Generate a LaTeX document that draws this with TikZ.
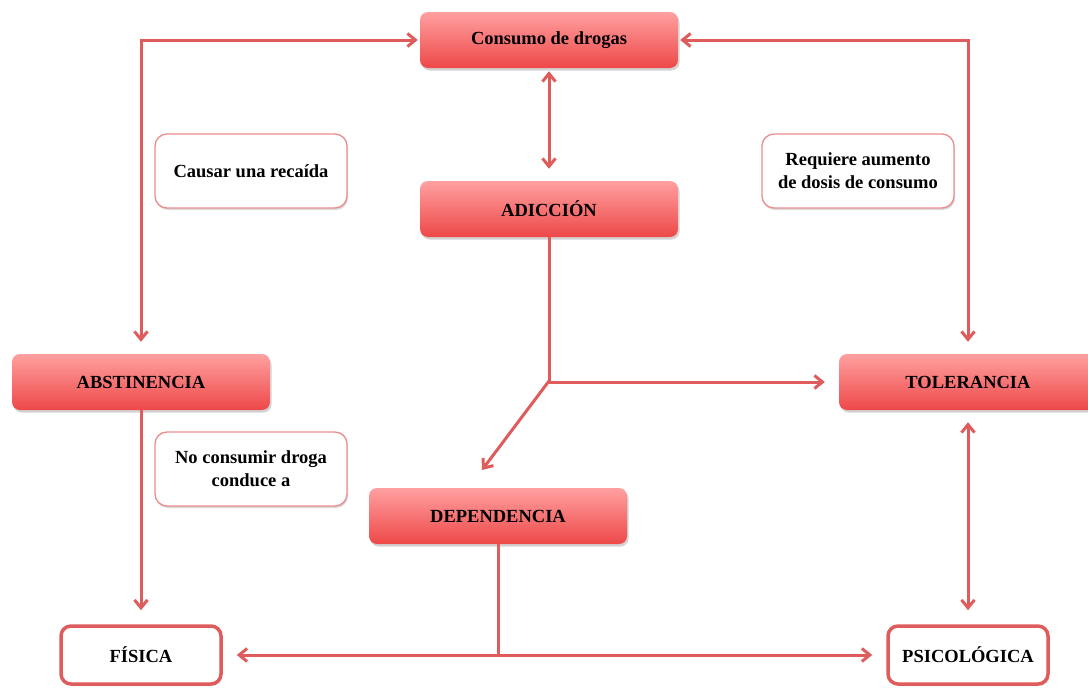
\documentclass[tikz,border=0pt]{standalone}
\usepackage{fontspec}
\setmainfont{Liberation Serif}
\usetikzlibrary{arrows.meta,shadows}
\definecolor{boxtop}{RGB}{255,160,160}
\definecolor{boxbot}{RGB}{238,72,72}
\definecolor{linkred}{RGB}{222,92,92}
\definecolor{notered}{RGB}{236,140,140}
\begin{document}
\begin{tikzpicture}[x=1pt,y=-1pt,
    font=\fontsize{18.5}{23}\selectfont\bfseries,
    redbox/.style={rounded corners=8pt, top color=boxtop, bottom color=boxbot,
        minimum width=258pt, minimum height=56pt, inner sep=0pt,
        drop shadow={opacity=0.35, shadow xshift=1.5pt, shadow yshift=-2.5pt}},
    notebox/.style={rounded corners=12pt, draw=notered, line width=1.3pt, fill=white,
        minimum width=192pt, minimum height=74pt, align=center, inner sep=0pt,
        drop shadow={opacity=0.3, shadow xshift=1pt, shadow yshift=-2pt}},
    endbox/.style={rounded corners=10pt, draw=linkred, line width=3.5pt, fill=white,
        minimum height=58pt, inner sep=0pt,
        drop shadow={opacity=0.3, shadow xshift=1pt, shadow yshift=-2pt}},
    link/.style={draw=linkred, line width=3pt,
        arrows={[length=8pt, width=13pt]}, >={Straight Barb}}]
    \useasboundingbox (0,0) rectangle (1088,688);
    % boxes
    \node[redbox] (drogas) at (549,40) {Consumo de drogas};
    \node[redbox] (adic) at (549,209) {ADICCIÓN};
    \node[redbox] (abst) at (141,382) {ABSTINENCIA};
    \node[redbox] (tol) at (968,382) {TOLERANCIA};
    \node[redbox] (depen) at (498,516) {DEPENDENCIA};
    \node[endbox, minimum width=160pt] (fis) at (141,655) {FÍSICA};
    \node[endbox, minimum width=160pt] (psi) at (968,655) {PSICOLÓGICA};
    \node[notebox] (recaida) at (251,171) {Causar una recaída};
    \node[notebox] (dosis) at (858,171) {Requiere aumento\\de dosis de consumo};
    \node[notebox] (noconsumo) at (251,469) {No consumir droga\\conduce a};
    % connectors
    \coordinate (split) at (549,381);
    \coordinate (deptip) at (482,470);
    \draw[link, <->, shorten <=2pt, shorten >=12pt] (drogas.west) -| (abst.north);
    \draw[link, <->, shorten <=2pt, shorten >=12pt] (drogas.east) -| (tol.north);
    \draw[link, <->, shorten <=3pt, shorten >=12pt] (drogas.south) -- (adic.north);
    \draw[link, ->, shorten >=14pt] (adic.south) |- (tol.west);
    \draw[link, ->] (split) -- (deptip);
    \draw[link, ->, shorten >=14pt] (abst.south) -- (fis.north);
    \draw[link, <->, shorten <=12pt, shorten >=14pt] (tol.south) -- (psi.north);
    \draw[link, ->, shorten >=14pt] (depen.south) |- (fis.east);
    \draw[link, ->, shorten >=14pt] (depen.south) |- (psi.west);
\end{tikzpicture}
\end{document}
